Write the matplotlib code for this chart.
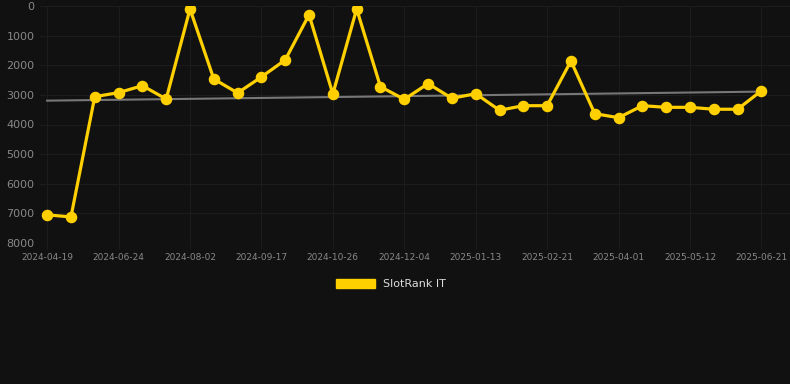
import numpy as np
import matplotlib
matplotlib.use("Agg")
from matplotlib import pyplot as plt
from matplotlib.patches import Patch

# rank values, one point per snapshot (lower = better, axis inverted)
ranks = [7050, 7120, 3060, 2925, 2690, 3140, 100, 2465, 2935, 2395,
         1820, 295, 2970, 100, 2725, 3150, 2620, 3115, 2960, 3520,
         3365, 3365, 1855, 3635, 3770, 3365, 3420, 3420, 3485, 3485,
         2860]

# only every third snapshot carries a label
tick_labels = ['2024-04-19', '2024-06-24', '2024-08-02', '2024-09-17',
               '2024-10-26', '2024-12-04', '2025-01-13', '2025-02-21',
               '2025-04-01', '2025-05-12', '2025-06-21']

trend = [3195, 2890]   # start / end of grey trend line

bg = '#111111'
gold = '#FFD000'

fig = plt.figure(figsize=(7.9, 3.84), dpi=100, facecolor=bg)
ax = fig.add_axes([40/790, 1 - 243/384, 750/790, 237/384])
ax.set_facecolor(bg)

x = np.arange(len(ranks))
ax.plot([x[0], x[-1]], trend, color='#777777', lw=1.5, zorder=2)
ax.plot(x, ranks, color=gold, lw=2.3, marker='o', ms=7.3, zorder=3)

ax.set_ylim(8000, 0)
ax.set_yticks(range(0, 8001, 1000))
ax.set_xlim(-0.3, 31.2)
ax.set_xticks(x[::3])
ax.set_xticklabels(tick_labels)

ax.grid(True, color='#1c1c1c', lw=0.8)
for s in ax.spines.values():
    s.set_visible(False)
ax.tick_params(axis='y', colors='#888888', labelsize=8, length=0, pad=4)
ax.tick_params(axis='x', colors='#1c1c1c', labelcolor='#888888', labelsize=6.5, length=4, pad=3)

fig.legend(handles=[Patch(color=gold)], labels=['SlotRank IT'],
           loc='center', bbox_to_anchor=(391/790, 1 - 284/384), frameon=False,
           labelcolor='#dddddd', fontsize=8, handlelength=3.5, handleheight=0.9)

fig.savefig('out.png', dpi=100, facecolor=bg)
